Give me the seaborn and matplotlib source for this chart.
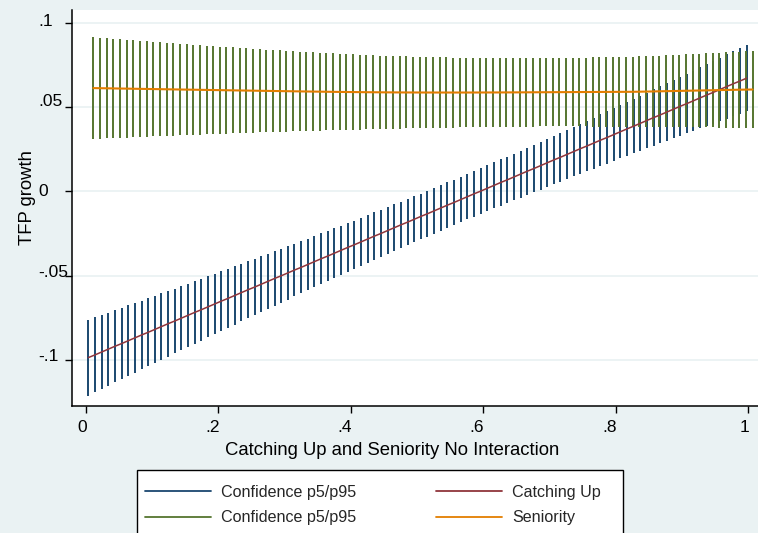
import numpy as np
import pandas as pd
import matplotlib
matplotlib.use("Agg")
import matplotlib.pyplot as plt
import matplotlib.transforms as mtrans
from matplotlib.patches import Rectangle
from matplotlib.lines import Line2D
import seaborn as sns

# ---------------- data ----------------
n_points = 100
catch_x_start, catch_x_end = 0.0035, 0.998
senior_x_start, senior_x_end = 0.011, 1.007

catching_up = [
    -0.0986, -0.0970, -0.0953, -0.0936, -0.0919, -0.0903, -0.0886, -0.0869, -0.0852, -0.0836,
    -0.0819, -0.0802, -0.0785, -0.0769, -0.0752, -0.0735, -0.0718, -0.0702, -0.0685, -0.0668,
    -0.0651, -0.0635, -0.0618, -0.0601, -0.0584, -0.0568, -0.0551, -0.0534, -0.0517, -0.0501,
    -0.0484, -0.0467, -0.0451, -0.0434, -0.0417, -0.0400, -0.0384, -0.0367, -0.0350, -0.0333,
    -0.0317, -0.0300, -0.0283, -0.0266, -0.0250, -0.0233, -0.0216, -0.0199, -0.0183, -0.0166,
    -0.0149, -0.0133, -0.0116, -0.0099, -0.0082, -0.0066, -0.0049, -0.0032, -0.0015, 0.0001,
    0.0018, 0.0035, 0.0052, 0.0068, 0.0085, 0.0102, 0.0119, 0.0135, 0.0152, 0.0169,
    0.0186, 0.0202, 0.0219, 0.0236, 0.0253, 0.0269, 0.0286, 0.0303, 0.0319, 0.0336,
    0.0353, 0.0370, 0.0386, 0.0403, 0.0420, 0.0437, 0.0453, 0.0470, 0.0487, 0.0504,
    0.0520, 0.0537, 0.0554, 0.0571, 0.0587, 0.0604, 0.0621, 0.0638, 0.0654, 0.0671]

# half-width of the p5/p95 band around "Catching Up"
catch_margin = [
    0.02249, 0.02223, 0.02197, 0.02171, 0.02145, 0.02120, 0.02095, 0.02070, 0.02045, 0.02021,
    0.01997, 0.01973, 0.01949, 0.01925, 0.01902, 0.01879, 0.01857, 0.01834, 0.01812, 0.01791,
    0.01769, 0.01748, 0.01728, 0.01708, 0.01688, 0.01668, 0.01649, 0.01631, 0.01612, 0.01595,
    0.01578, 0.01561, 0.01545, 0.01529, 0.01514, 0.01499, 0.01485, 0.01472, 0.01459, 0.01447,
    0.01436, 0.01425, 0.01415, 0.01405, 0.01396, 0.01388, 0.01381, 0.01374, 0.01368, 0.01363,
    0.01359, 0.01355, 0.01353, 0.01351, 0.01349, 0.01349, 0.01349, 0.01351, 0.01353, 0.01355,
    0.01359, 0.01363, 0.01368, 0.01374, 0.01381, 0.01388, 0.01396, 0.01405, 0.01415, 0.01425,
    0.01436, 0.01447, 0.01459, 0.01472, 0.01485, 0.01499, 0.01514, 0.01529, 0.01545, 0.01561,
    0.01578, 0.01595, 0.01612, 0.01631, 0.01649, 0.01668, 0.01688, 0.01708, 0.01728, 0.01748,
    0.01769, 0.01791, 0.01812, 0.01834, 0.01857, 0.01879, 0.01902, 0.01925, 0.01949, 0.01973]

seniority = [
    0.06120, 0.06114, 0.06107, 0.06101, 0.06094, 0.06088, 0.06081, 0.06075, 0.06068, 0.06062,
    0.06056, 0.06049, 0.06043, 0.06036, 0.06030, 0.06024, 0.06017, 0.06011, 0.06004, 0.05998,
    0.05992, 0.05985, 0.05979, 0.05973, 0.05967, 0.05960, 0.05954, 0.05948, 0.05942, 0.05936,
    0.05930, 0.05924, 0.05918, 0.05913, 0.05908, 0.05902, 0.05897, 0.05892, 0.05888, 0.05884,
    0.05880, 0.05876, 0.05873, 0.05870, 0.05867, 0.05865, 0.05863, 0.05861, 0.05860, 0.05859,
    0.05858, 0.05858, 0.05857, 0.05857, 0.05857, 0.05857, 0.05857, 0.05858, 0.05859, 0.05860,
    0.05861, 0.05862, 0.05864, 0.05865, 0.05867, 0.05869, 0.05871, 0.05873, 0.05875, 0.05877,
    0.05879, 0.05881, 0.05883, 0.05885, 0.05887, 0.05889, 0.05891, 0.05893, 0.05895, 0.05896,
    0.05898, 0.05900, 0.05905, 0.05913, 0.05921, 0.05929, 0.05937, 0.05945, 0.05953, 0.05961,
    0.05969, 0.05977, 0.05985, 0.05993, 0.06001, 0.06009, 0.06016, 0.06023, 0.06030, 0.06036]

# half-width of the p5/p95 band around "Seniority"
senior_margin = [
    0.03020, 0.02995, 0.02971, 0.02947, 0.02922, 0.02899, 0.02875, 0.02851, 0.02828, 0.02805,
    0.02782, 0.02759, 0.02737, 0.02714, 0.02692, 0.02671, 0.02649, 0.02628, 0.02607, 0.02586,
    0.02565, 0.02545, 0.02525, 0.02505, 0.02486, 0.02467, 0.02448, 0.02429, 0.02411, 0.02394,
    0.02376, 0.02359, 0.02342, 0.02326, 0.02309, 0.02294, 0.02278, 0.02263, 0.02249, 0.02235,
    0.02221, 0.02207, 0.02195, 0.02182, 0.02170, 0.02158, 0.02147, 0.02137, 0.02127, 0.02117,
    0.02108, 0.02099, 0.02091, 0.02083, 0.02076, 0.02069, 0.02063, 0.02057, 0.02052, 0.02047,
    0.02043, 0.02040, 0.02037, 0.02034, 0.02032, 0.02031, 0.02030, 0.02030, 0.02030, 0.02031,
    0.02032, 0.02034, 0.02037, 0.02040, 0.02043, 0.02047, 0.02052, 0.02057, 0.02063, 0.02069,
    0.02076, 0.02083, 0.02091, 0.02099, 0.02108, 0.02117, 0.02127, 0.02137, 0.02147, 0.02158,
    0.02170, 0.02182, 0.02195, 0.02207, 0.02221, 0.02235, 0.02249, 0.02263, 0.02278, 0.02294]

x_ticks = [0, 0.2, 0.4, 0.6, 0.8, 1.0]
x_tick_labels = ["0", ".2", ".4", ".6", ".8", "1"]
y_ticks = [0.1, 0.05, 0.0, -0.05, -0.1]
y_tick_labels = [".1", ".05", "0", "-.05", "-.1"]
x_title = "Catching Up and Seniority No Interaction"
y_title = "TFP growth"
legend_labels = ["Confidence p5/p95", "Confidence p5/p95", "Catching Up", "Seniority"]

# ---------------- tables ----------------
catch_x = np.linspace(catch_x_start, catch_x_end, n_points)
senior_x = np.linspace(senior_x_start, senior_x_end, n_points)
df_catch = pd.DataFrame({"x": catch_x, "est": catching_up, "m": catch_margin})
df_catch["lo"] = df_catch["est"] - df_catch["m"]
df_catch["hi"] = df_catch["est"] + df_catch["m"]
df_sen = pd.DataFrame({"x": senior_x, "est": seniority, "m": senior_margin})
df_sen["lo"] = df_sen["est"] - df_sen["m"]
df_sen["hi"] = df_sen["est"] + df_sen["m"]

# ---------------- style ----------------
sns.set_theme(style="white")
plt.rcParams["font.family"] = ["Liberation Sans", "DejaVu Sans"]
BG = "#EAF2F3"
NAVY = "#1a476f"
MAROON = "#90353b"
GREEN = "#55752f"
ORANGE = "#e37e00"

W, H, DPI = 758, 533, 100
fig = plt.figure(figsize=(W / DPI, H / DPI), dpi=DPI, facecolor=BG)
ax = fig.add_axes([72 / W, (H - 406) / H, 686 / W, 396 / H])
ax.set_facecolor("white")

ax.set_xlim(-0.02115, 1.0151)
ax.set_ylim(-0.1273, 0.1075)

# gridlines
for yv in y_ticks:
    ax.axhline(yv, color=BG, lw=1.3, zorder=0)

# spikes (confidence bands)
ax.vlines(df_catch["x"], df_catch["lo"], df_catch["hi"], colors=NAVY, lw=1.4, zorder=2)
ax.vlines(df_sen["x"], df_sen["lo"], df_sen["hi"], colors=GREEN, lw=1.4, zorder=2)

# estimate lines
sns.lineplot(data=df_catch, x="x", y="est", color=MAROON, lw=1.1, ax=ax, zorder=3,
             legend=False, estimator=None, sort=True)
sns.lineplot(data=df_sen, x="x", y="est", color=ORANGE, lw=1.5, ax=ax, zorder=3,
             legend=False, estimator=None, sort=True)

# spines
for s in ["top", "right"]:
    ax.spines[s].set_visible(False)
for s in ["left", "bottom"]:
    ax.spines[s].set_color("black")
    ax.spines[s].set_linewidth(1.1)

ax.set_xlabel("")
ax.set_ylabel("")
ax.yaxis.set_ticks_position("left")
ax.xaxis.set_ticks_position("bottom")
ax.set_xticks(x_ticks)
ax.set_xticklabels(x_tick_labels, ha="right", fontsize=12.5)
ax.set_yticks(y_ticks)
ax.set_yticklabels([])
ax.tick_params(axis="both", direction="out", length=5, width=1.0, color="black")
ax.tick_params(axis="x", pad=5, labelcolor="black")

# shift x tick labels 1 px right
for lab in ax.get_xticklabels():
    lab.set_transform(lab.get_transform() + mtrans.ScaledTranslation(1 / DPI, 0, fig.dpi_scale_trans))

# y tick labels (left aligned, as in the reference)
ytrans = mtrans.blended_transform_factory(fig.transFigure, ax.transData)
y_nudge_px = [1, 5, 0, 3, 3]
for yv, lab, nd in zip(y_ticks, y_tick_labels, y_nudge_px):
    t = ytrans + mtrans.ScaledTranslation(0, nd / DPI, fig.dpi_scale_trans)
    ax.text(38 / W, yv, lab, transform=t, ha="left", va="center", fontsize=12.5,
            color="black", clip_on=False)

# axis titles
fig.text(392 / W, 1 - 455 / H, x_title, ha="center", va="baseline", fontsize=13.3, color="black")
fig.text(27 / W, 1 - 198 / H, y_title, ha="center", va="center", rotation=90,
         fontsize=13.3, color="black")

# legend box
box = Rectangle((137 / W, -0.05), (623 - 137) / W, (1 - 470 / H) + 0.05,
                transform=fig.transFigure, facecolor="white", edgecolor="black",
                lw=1.0, zorder=1)
fig.add_artist(box)

handles = [Line2D([], [], color=NAVY, lw=1.3),
           Line2D([], [], color=GREEN, lw=1.3),
           Line2D([], [], color=MAROON, lw=1.3),
           Line2D([], [], color=ORANGE, lw=1.3)]
fs_leg = 11.6
fs_px = fs_leg * DPI / 72
leg = fig.legend(handles, legend_labels, ncol=2, loc="upper left",
                 bbox_to_anchor=(145 / W, 1 - 485 / H), bbox_transform=fig.transFigure,
                 frameon=False, borderpad=0, borderaxespad=0, fontsize=fs_leg,
                 handlelength=66 / fs_px, handletextpad=10 / fs_px,
                 columnspacing=80 / fs_px, labelspacing=0.65)
leg.set_zorder(5)

fig.savefig("out.png", dpi=DPI, facecolor=BG)
